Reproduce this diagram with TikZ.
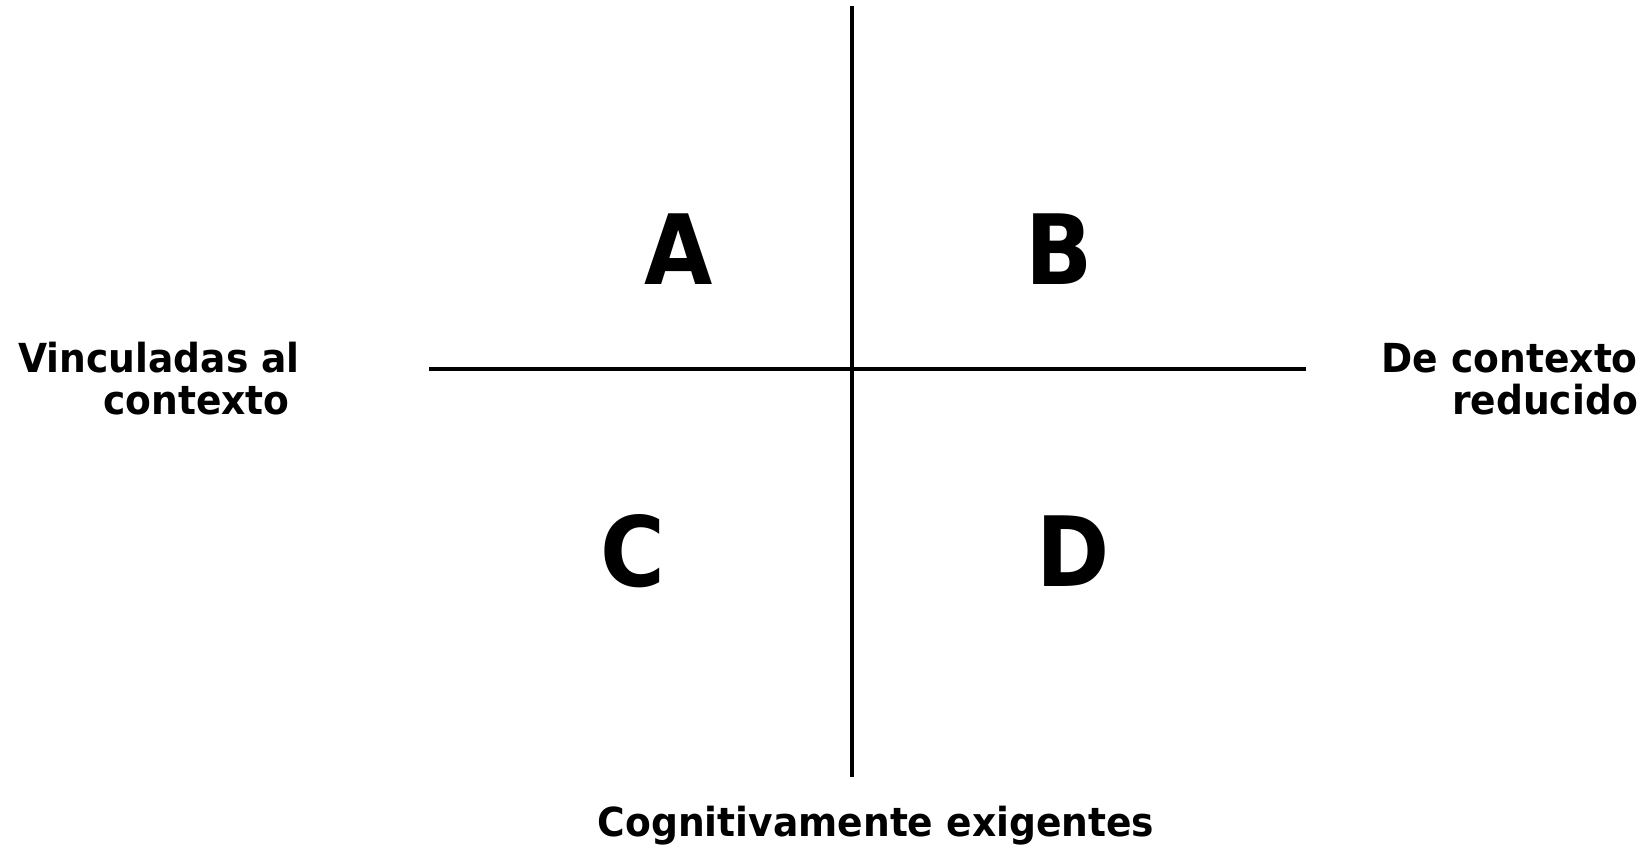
\documentclass[tikz,border=0pt]{standalone}
\usepackage{fontspec}
\setmainfont{DejaVu Sans}[FakeStretch=0.94]
\newfontfamily\quadfont{DejaVu Sans}[FakeStretch=0.91]
\begin{document}
\begin{tikzpicture}[x=1pt,y=-1pt,
  axis/.style={line width=4pt, black},
  quad/.style={font=\quadfont\fontsize{97}{110}\selectfont\bfseries, inner sep=0pt, anchor=base},
  lab/.style={font=\fontsize{40}{42}\selectfont\bfseries, inner sep=0pt, align=right, anchor=base east}]
\useasboundingbox (0,0) rectangle (1648,847);
\coordinate (vtop) at (852,6);
\coordinate (vbot) at (852,777);
\coordinate (hl) at (429,369);
\coordinate (hr) at (1306,369);
\draw[axis] (vtop) -- (vbot);
\draw[axis] (hl) -- (hr);
\node[quad] (A) at (679,284) {A};
\node[quad] (B) at (1059,284) {B};
\node[quad] (C) at (633,586) {C};
\node[quad] (D) at (1073,586) {D};
\node[lab] (left) at (300,414) {Vinculadas al\\contexto\hspace*{10pt}};
\node[lab] (right) at (1638,414) {De contexto\\reducido};
\node[lab, anchor=base] (bottom) at (876,836) {Cognitivamente exigentes};
\end{tikzpicture}
\end{document}
